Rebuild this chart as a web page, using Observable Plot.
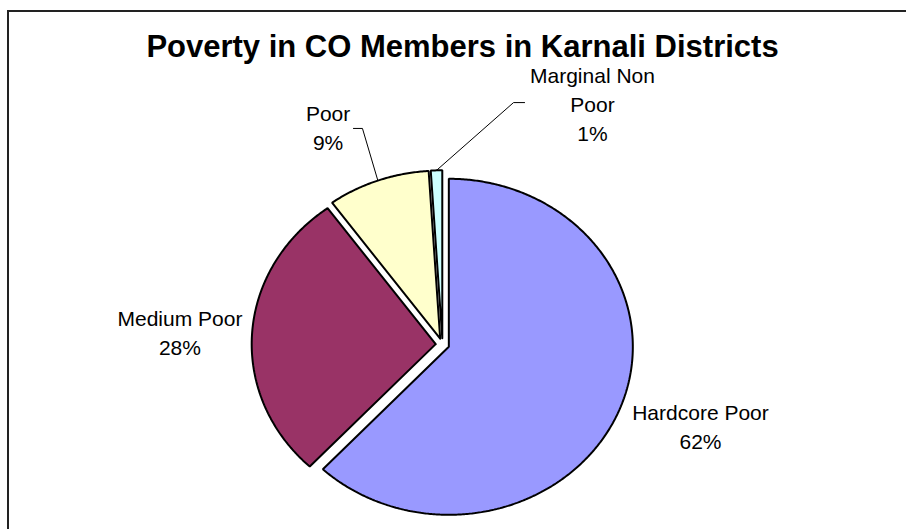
<!DOCTYPE html>
<html>
<head>
<meta charset="utf-8">
<script src="https://cdn.jsdelivr.net/npm/d3@7"></script>
<script src="https://cdn.jsdelivr.net/npm/@observablehq/plot@0.6"></script>
<style>
  html, body { margin: 0; padding: 0; background: #fff; overflow: hidden; }
  #wrap { position: relative; width: 906px; height: 529px; }
  #border { position: absolute; left: 7px; top: 10px; width: 920px; height: 540px;
            border-left: 2px solid #222; border-top: 2px solid #222; pointer-events: none; }
  #chart { position: absolute; left: 0; top: 0; }
</style>
</head>
<body>
<div id="wrap"><div id="chart"></div><div id="border"></div></div>
<script>
// ---- data ----
const title = "Poverty in CO Members in Karnali Districts";
const categories = ["Hardcore Poor", "Medium Poor", "Poor", "Marginal Non Poor"];
const values = [62, 28, 9, 1];
const labelNames = ["Hardcore Poor", "Medium Poor", "Poor", "Marginal Non\nPoor"];
const percentLabels = ["62%", "28%", "9%", "1%"];
const colors = ["#9999FF", "#993366", "#FFFFCC", "#CCFFFF"];

// ---- layout (normalized pie units; x,y in [-1,1], y up) ----
const explode = 0.037;
const labelAt = [[1.402, -0.48], [-1.427, 0.08], [-0.622, 1.298], [0.815, 1.44]];
const leaders = { 2: [[-0.484, 1.286], [-0.435, 1.286]], 3: [[0.446, 1.44], [0.386, 1.44]] };

const total = d3.sum(values);
let acc = 0;
const slices = values.map((v, i) => {
  const a0 = acc / total * 2 * Math.PI;
  acc += v;
  const a1 = acc / total * 2 * Math.PI;
  const m = (a0 + a1) / 2;
  return { i, cat: categories[i], a0, a1, m, ox: explode * Math.sin(m), oy: explode * Math.cos(m) };
});

function slicePoints(s) {
  const pts = [{ x: s.ox, y: s.oy }];
  const n = Math.max(4, Math.ceil((s.a1 - s.a0) / (Math.PI / 360)));
  for (let k = 0; k <= n; k++) {
    const t = s.a0 + (s.a1 - s.a0) * k / n;
    pts.push({ x: s.ox + Math.sin(t), y: s.oy + Math.cos(t) });
  }
  pts.push({ x: s.ox, y: s.oy });
  return pts;
}

const sliceMarks = slices.map(s => Plot.line(slicePoints(s), {
  x: "x", y: "y", fill: colors[s.i], stroke: "#000", strokeWidth: 2, strokeLinejoin: "miter", curve: "linear"
}));

const leaderMarks = Object.entries(leaders).map(([k, pts]) => {
  const s = slices[+k];
  const end = { x: s.ox + Math.sin(s.m), y: s.oy + Math.cos(s.m) };
  return Plot.line([...pts.map(([x, y]) => ({ x, y })), end], { x: "x", y: "y", stroke: "#000", strokeWidth: 1 });
});

const labelData = slices.map(s => ({
  x: labelAt[s.i][0], y: labelAt[s.i][1], text: labelNames[s.i] + "\n" + percentLabels[s.i]
}));

const chart = Plot.plot({
  width: 906,
  height: 529,
  margin: 0,
  style: { fontFamily: "'Liberation Sans', Arial, sans-serif", background: "transparent" },
  x: { domain: [-1, 1], range: [258, 626], axis: null },
  y: { domain: [-1, 1], range: [512, 176], axis: null },
  marks: [
    ...sliceMarks,
    ...leaderMarks,
    Plot.text(labelData, { x: "x", y: "y", text: "text", fontSize: 21, lineHeight: 1.38, fill: "#000", textAnchor: "middle" }),
    Plot.text([title], { frameAnchor: "top", dy: 34, dx: 9, fontSize: 31, fontWeight: "bold", fill: "#000" })
  ]
});
document.getElementById("chart").appendChild(chart);
</script>
</body>
</html>
